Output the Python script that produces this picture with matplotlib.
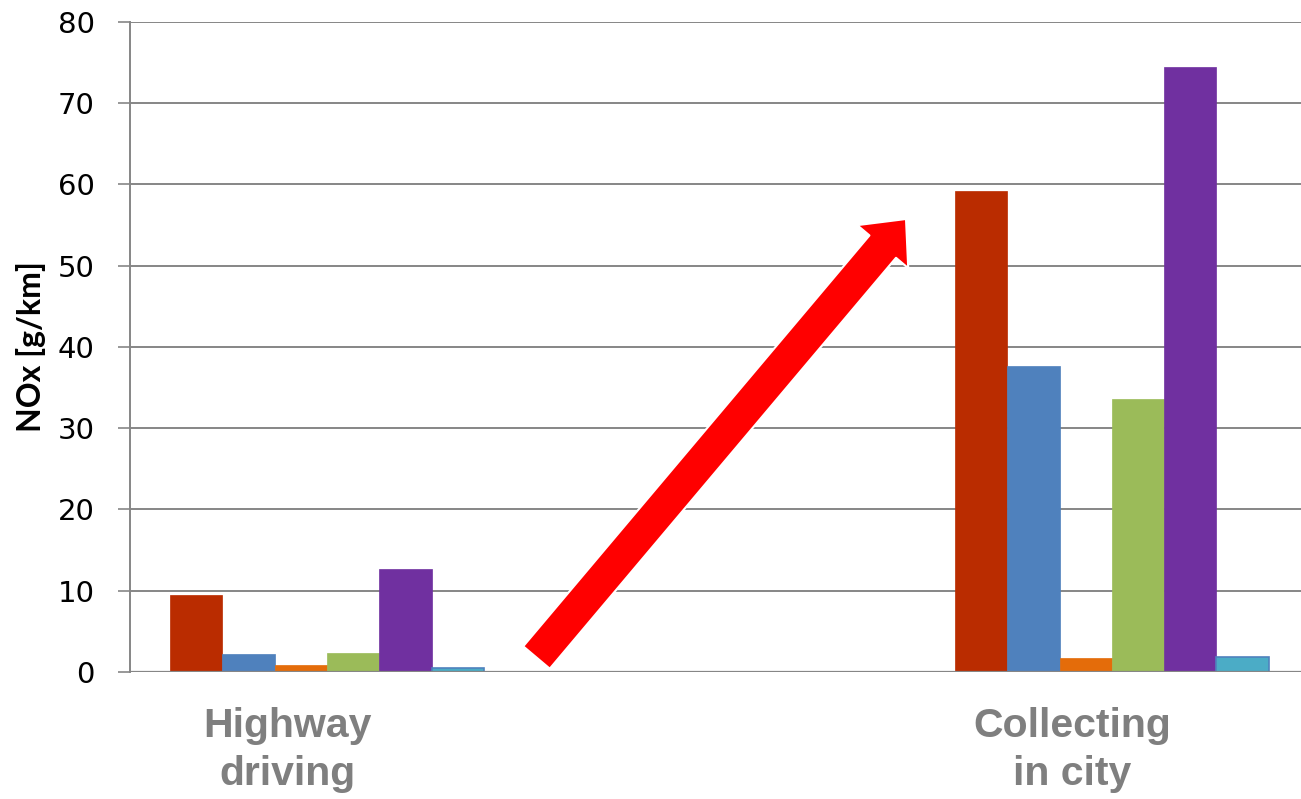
import numpy as np
import matplotlib
matplotlib.use("Agg")
import matplotlib.pyplot as plt
from matplotlib.patches import FancyArrowPatch

# data
categories = ["Highway\ndriving", "Collecting\nin city"]
series_colors = ["#BA2C00", "#4F81BD", "#E46C0A", "#9BBB59", "#7030A0", "#4BACC6"]
series_edges = ["#BA2C00", "#4F81BD", "#E46C0A", "#9BBB59", "#7030A0", "#4F81BD"]
values = [
    [9.5, 59.2],   # red
    [2.2, 37.6],   # blue
    [0.9, 1.7],    # orange
    [2.3, 33.6],   # green
    [12.7, 74.5],  # purple
    [0.5, 1.8],    # cyan
]
yticks = [0, 10, 20, 30, 40, 50, 60, 70, 80]

fig = plt.figure(figsize=(13.01, 7.99), dpi=100)
ax = fig.add_axes([0.0999, 0.159, 0.9001, 0.8136])

x = np.arange(len(categories))
w = 0.0666
n = len(values)
for i, (vals, c, ec) in enumerate(zip(values, series_colors, series_edges)):
    ax.bar(x + (i - (n - 1) / 2) * w, vals, w, color=c, edgecolor=ec,
           linewidth=1.2 if i == n - 1 else 0.5, zorder=3)

ax.set_xlim(-0.251, 1.241)
ax.set_ylim(0, 80)
ax.set_yticks(yticks)
ax.set_yticklabels([str(t) for t in yticks], fontsize=21, family="DejaVu Sans")
ax.yaxis.grid(True, color="#868686", linewidth=1.4, zorder=0)
ax.tick_params(axis="y", length=8.5, width=1.2, color="#868686", pad=17)
for s in ["top", "right", "bottom"]:
    ax.spines[s].set_visible(False)
ax.spines["left"].set_color("#868686")
ax.spines["left"].set_linewidth(1.4)
ax.axhline(0, color="#868686", linewidth=1.6, zorder=4)

ax.set_xticks(x - 0.05)
ax.set_xticklabels(categories, fontsize=29.5, fontweight="bold", color="#7F7F7F",
                   family="Liberation Sans", linespacing=1.36)
ax.tick_params(axis="x", length=0, pad=25)

ax.set_ylabel("NOx [g/km]", fontsize=23, fontweight="bold", family="Lato")
ax.yaxis.set_label_coords(-0.072, 0.5)

# big red arrow
arrow = FancyArrowPatch((536.5 / 1301, 1 - 657.5 / 799), (906 / 1301, 1 - 219 / 799),
                        transform=fig.transFigure,
                        arrowstyle="simple,head_length=26,head_width=48,tail_width=25",
                        mutation_scale=1, facecolor="#FF0000", edgecolor="white",
                        linewidth=1.5, shrinkA=0, shrinkB=0, zorder=10)
fig.patches.append(arrow)

fig.savefig("out.png", dpi=100)
